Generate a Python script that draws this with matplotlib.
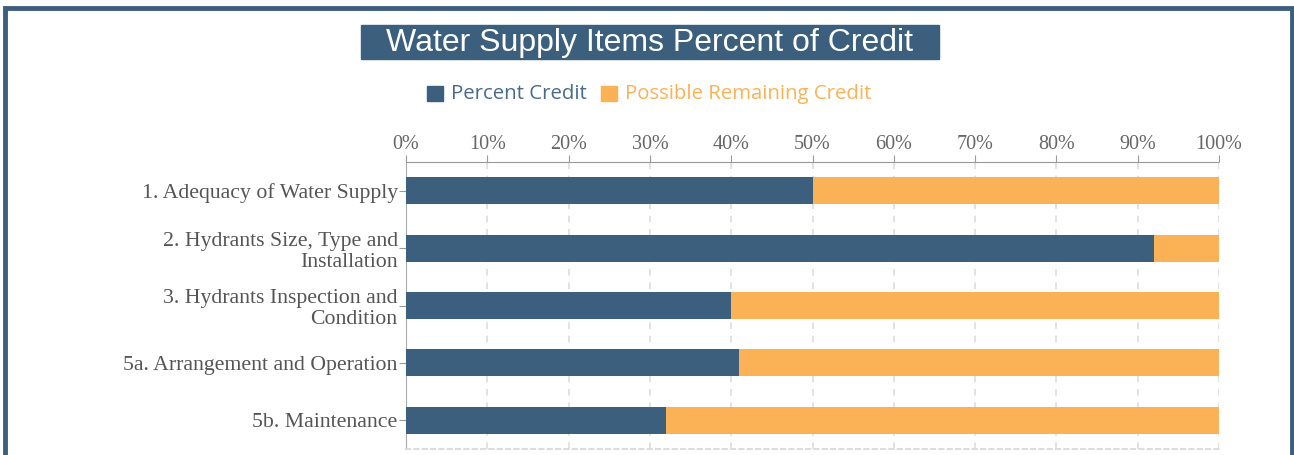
import matplotlib.pyplot as plt
from matplotlib.patches import Rectangle

categories = ["1. Adequacy of Water Supply",
              "2. Hydrants Size, Type and\nInstallation",
              "3. Hydrants Inspection and\nCondition",
              "5a. Arrangement and Operation",
              "5b. Maintenance"]
percent_credit = [50, 92, 40, 41, 32]
remaining_credit = [100 - v for v in percent_credit]
ticks = [0, 10, 20, 30, 40, 50, 60, 70, 80, 90, 100]

blue = "#3b5f7d"
orange = "#fbb257"

fig = plt.figure(figsize=(12.94, 4.55), dpi=100)
ax = fig.add_axes([406/1294, 6/455, (1219-406)/1294, (449-162)/455])

ypos = list(range(len(categories)))
ax.barh(ypos, percent_credit, height=0.47, color=blue, zorder=3)
ax.barh(ypos, remaining_credit, left=percent_credit, height=0.47, color=orange, zorder=3)

ax.set_xlim(0, 100)
ax.set_ylim(len(categories) - 0.5, -0.5)
ax.set_yticks(ypos)
ax.set_yticklabels(categories, family="Liberation Serif", fontsize=15.7, color="#555555",
                   linespacing=1.15)
ax.xaxis.tick_top()
ax.set_xticks(ticks)
ax.set_xticklabels([f"{t}%" for t in ticks], family="Liberation Serif", fontsize=14.5,
                   color="#666666")
ax.tick_params(axis="x", length=5, color="#999999", pad=1)
ax.tick_params(axis="y", length=5, color="#999999", pad=1)
ax.grid(axis="x", linestyle=(0, (4, 4)), color="#dddddd", linewidth=1.2, zorder=0)

ax.spines["right"].set_visible(False)
ax.spines["left"].set_color("#aaaaaa")
ax.spines["top"].set_color("#999999")
ax.spines["top"].set_linestyle((0, (3, 1)))
ax.spines["bottom"].set_color("#dddddd")
ax.spines["bottom"].set_linestyle((0, (2, 2)))
ax.spines["bottom"].set_linewidth(1.5)

# title box
fig.patches.append(Rectangle((361/1294, 1 - 59/455), 578/1294, 34/455,
                             transform=fig.transFigure, color=blue))
fig.text(650/1294, 1 - 43/455, "Water Supply Items Percent of Credit", ha="center", va="center",
         fontsize=23, color="white", family="Liberation Sans")

# legend
fig.patches.append(Rectangle((427/1294, 1 - 101/455), 16/1294, 15/455,
                             transform=fig.transFigure, color=blue))
fig.text(451/1294, 1 - 94/455, "Percent Credit", va="center", fontsize=14.7,
         color="#4a6a8c", family="Open Sans")
fig.patches.append(Rectangle((601/1294, 1 - 101/455), 16/1294, 15/455,
                             transform=fig.transFigure, color=orange))
fig.text(625/1294, 1 - 94/455, "Possible Remaining Credit", va="center", fontsize=14.7,
         color=orange, family="Open Sans")

# outer frame
fig.patches.append(Rectangle((5/1294, -0.2), 1287/1294, 1.2 - 8/455, transform=fig.transFigure,
                             fill=False, edgecolor=blue, linewidth=3.5))

fig.savefig("out.png", dpi=100)
